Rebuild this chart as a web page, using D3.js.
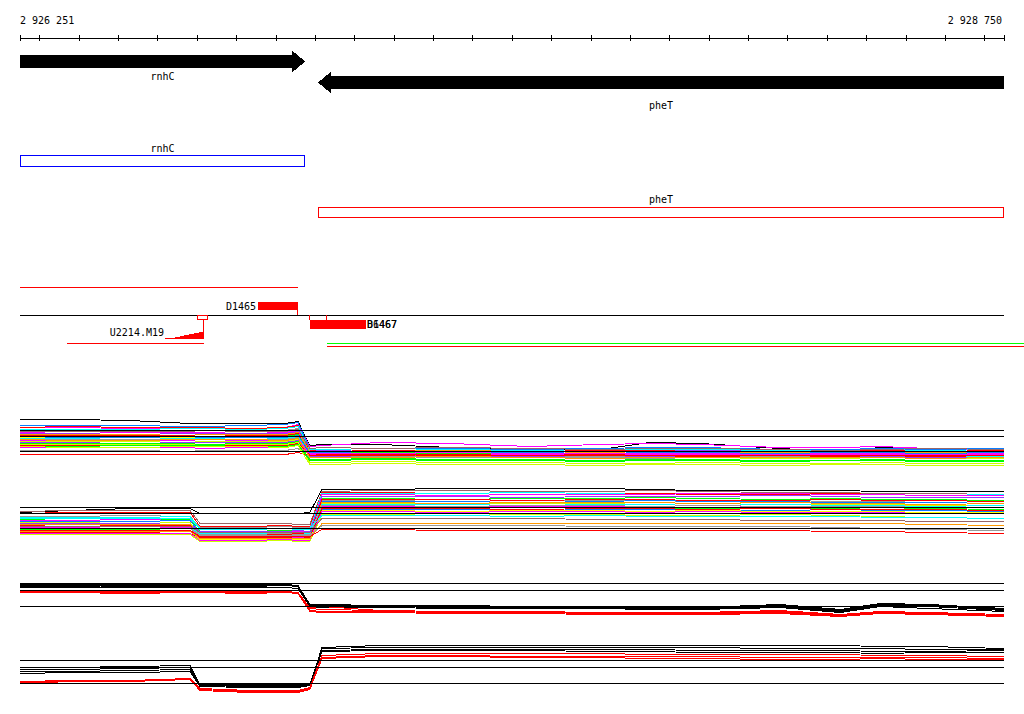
<!DOCTYPE html>
<html>
<head>
<meta charset="utf-8">
<script src="https://cdnjs.cloudflare.com/ajax/libs/d3/7.8.5/d3.min.js"></script>
<style>
	html, body { margin: 0; padding: 0; background: #fff; }
	svg { display: block; font-family: "DejaVu Sans Mono", monospace; font-size: 10px; }
</style>
</head>
<body>
<div id="wrapper"></div>
<script>
const regionStart = 2926251;
const regionEnd = 2928750;

// genes
const geneNames = ["rnhC", "pheT"];
const geneStarts = [2926251, 2927008];
const geneEnds = [2926975, 2928750];
const geneStrands = [1, -1];

// features under the genes
const upstreamSpan = [2926251, 2926957];
const siteName = "D1465";
const siteSpan = [2926855, 2926957];
const tssName = "U2214.M19";
const tssSpan = [2926619, 2926718];
const tssBox = [2926700, 2926725];
const tssCounts = [1, 1, 2, 3, 4, 5, 6, 7];
const tssLine = [2926370, 2926718];
const termNames = ["D1467", "B6467"];
const termSpan = [2926988, 2927131];
const termTicks = [2926988, 2927031];
const downstreamSpan = [2927031, 2928810];

// probe positions of the expression profiles
const probePos = [2926251, 2926380, 2926530, 2926683, 2926708, 2926835, 2926925, 2926957, 2926987, 2927018, 2927165,
	2927345, 2927545, 2927725, 2927850, 2927980, 2928180, 2928335, 2928435, 2928560, 2928750];

const panel1Refs = [21, 15, 0];
const panel2Refs = [21, 15, 0];
const panel3Refs = [23, 16, 0];
const panel4Refs = [23, 16, 0];

const panel1Colors = ["blk", "mag", "blu", "red", "cyn", "gry", "brn", "mag", "pur", "org", "red", "lim", "yel", "blu",
	"cyn", "gry", "mag", "gy", "pur", "lim", "red", "mag", "gy", "gry", "red", "lim", "gy", "org"];
const panel1Values = [
	[32,32,31,28,28,28,28,30,6,7,7,4,2,2,9,8,3,0,4,3,0],
	[24,24,23,23,23,22,24,27,5,6,9,8,5,7,8,7,4,4,5,3,0],
	[26,26,26,25,25,26,27,29,3,4,3,3,2,3,4,4,2,2,3,2,3],
	[24,25,24,24,24,23,24,26,1,2,1,1,0,1,1,2,1,0,1,0,1],
	[22,22,22,23,23,22,23,25,2,2,3,2,1,2,2,2,1,1,2,1,2],
	[21,21,20,21,21,21,21,23,-1,0,-1,-1,-2,-1,0,-1,-2,-2,-1,-1,-1],
	[20,20,20,20,19,20,20,22,3,4,3,4,3,2,3,3,2,1,2,3,2],
	[19,18,19,19,19,18,19,21,-2,-1,-2,-1,-2,-3,-2,-2,-3,-2,-2,-3,-4],
	[18,18,17,18,18,18,18,20,0,1,0,0,-1,0,0,1,0,-1,0,-1,-1],
	[17,17,17,16,17,17,17,19,0,-1,0,1,0,-1,0,0,-1,0,0,-1,0],
	[16,16,16,16,15,16,16,18,-3,-3,-2,-3,-4,-3,-3,-3,-4,-4,-3,-4,-3],
	[15,15,14,15,15,15,15,17,-2,-2,-1,-2,-2,-3,-2,-2,-3,-3,-2,-2,-3],
	[14,14,14,14,13,14,13,15,-4,-4,-3,-4,-5,-4,-4,-5,-5,-4,-4,-5,-5],
	[13,14,14,13,14,14,14,16,-1,-1,0,-1,-1,0,-1,-1,-2,-1,-1,-2,-1],
	[13,13,12,13,13,12,13,15,-4,-3,-4,-4,-4,-5,-4,-4,-5,-5,-4,-5,-5],
	[12,12,12,11,12,12,12,14,-5,-5,-4,-5,-5,-5,-6,-5,-5,-6,-5,-6,-6],
	[11,11,11,11,10,11,11,13,-3,-3,-2,-3,-3,-4,-3,-3,-4,-3,-3,-4,-3],
	[10,10,10,9,10,10,10,12,-6,-6,-5,-6,-6,-7,-6,-6,-7,-7,-6,-7,-7],
	[9,9,8,9,9,9,9,11,-5,-5,-5,-4,-5,-6,-5,-5,-6,-5,-5,-6,-6],
	[8,8,8,8,7,8,8,10,-8,-8,-7,-8,-8,-9,-8,-8,-9,-9,-8,-9,-9],
	[6,6,6,5,6,6,6,8,-4,-4,-4,-3,-4,-4,-4,-5,-4,-4,-4,-5,-4],
	[4,4,4,4,3,4,4,6,-2,-2,-2,-1,-2,-2,-2,-2,-3,-2,-2,-3,-2],
	[7,7,7,7,6,7,7,9,-11,-11,-10,-11,-11,-12,-12,-11,-12,-12,-11,-12,-12],
	[1,1,1,0,1,1,1,3,-6,-6,-5,-6,-6,-6,-7,-6,-6,-6,-6,-7,-6],
	[-3,-3,-3,-3,-3,-3,-3,-1,-4,-3,-3,-4,-4,-3,-4,-4,-4,-5,-4,-4,-4],
	[5,5,6,6,6,5,5,7,-9,-9,-8,-9,-9,-10,-9,-9,-10,-9,-9,-10,-10],
	[5,4,4,5,5,5,4,6,-13,-13,-12,-13,-13,-14,-13,-13,-14,-13,-13,-14,-14],
	[12,11,11,12,12,12,11,13,-6,-6,-6,-5,-6,-7,-6,-6,-6,-6,-6,-7,-6],
];

const panel2Colors = ["blk", "brn", "red", "gry", "cyn", "lim", "mag", "blu", "gy", "pur", "org", "red", "cyn", "mag",
	"gry", "lim", "blu", "yel", "red", "mag", "gy", "org", "gry", "red", "brn", "cyn"];
const panel2Values = [
	[16,18,20,20,15,15,15,15,16,39,39,40,40,40,39,38,38,38,37,37,37],
	[17,18,18,18,5,5,5,4,4,37,38,38,37,37,38,37,36,36,35,35,34],
	[15,16,16,16,2,2,3,2,2,36,36,35,36,35,35,34,34,35,34,33,33],
	[12,12,13,12,1,1,2,1,1,28,28,29,28,28,28,27,28,27,27,26,27],
	[11,11,11,12,-1,-1,0,-1,-1,35,35,35,36,35,34,35,35,34,34,33,34],
	[9,10,9,9,-3,-3,-2,-3,-3,30,30,29,30,30,31,30,29,30,29,29,28],
	[8,8,9,8,-4,-4,-4,-3,-4,34,34,33,34,34,34,35,35,34,34,33,33],
	[7,7,7,8,-5,-5,-4,-5,-5,27,27,27,26,27,28,27,27,26,26,26,25],
	[6,6,5,6,-8,-8,-7,-8,-8,25,25,24,25,25,24,25,24,24,24,23,23],
	[5,5,5,4,-3,-3,-3,-2,-3,32,32,32,31,32,32,32,33,32,31,31,31],
	[4,4,4,4,-7,-7,-6,-7,-7,26,26,25,26,26,26,25,26,25,25,24,25],
	[3,2,3,3,-6,-6,-6,-5,-6,29,29,29,28,29,29,28,28,29,28,28,27],
	[2,2,2,1,-5,-5,-5,-4,-5,24,24,24,23,24,24,23,24,23,23,22,23],
	[1,1,0,1,-9,-9,-8,-9,-9,22,22,21,22,22,22,21,22,21,21,20,21],
	[0,0,0,0,-6,-6,-5,-6,-6,23,23,22,23,23,22,23,22,22,22,21,21],
	[-1,-1,-1,-2,-10,-10,-9,-10,-10,21,21,20,21,21,20,20,21,20,19,20,19],
	[-2,-2,-2,-2,-8,-8,-8,-7,-8,19,19,19,18,19,19,18,18,19,18,18,17],
	[-3,-3,-4,-3,-11,-11,-10,-11,-11,18,18,17,18,18,17,18,17,17,17,16,16],
	[-4,-4,-4,-5,-9,-9,-9,-8,-9,20,20,20,19,20,20,19,20,19,19,19,18],
	[-5,-5,-5,-5,-12,-12,-11,-12,-12,17,17,16,17,17,16,17,16,16,16,15,15],
	[-6,-6,-6,-6,-13,-13,-12,-13,-13,14,14,13,14,14,13,13,14,13,12,11,10],
	[-3,-3,-3,-3,-10,-10,-10,-10,-10,5,5,5,5,5,5,5,5,5,5,4,3],
	[0,0,0,0,-7,-7,-7,-7,-7,3,3,3,3,2,2,2,2,1,0,-1,-2],
	[-2,-2,-2,-2,-8,-8,-8,-8,-8,-1,-1,-2,-2,-2,-2,-2,-2,-3,-3,-4,-5],
	[2,2,2,2,-4,-4,-4,-4,-4,10,10,10,10,9,9,9,8,8,8,7,7],
	[10,10,10,10,0,0,0,0,0,13,13,13,12,13,12,12,12,12,11,11,10],
];

const panel3Colors = ["blk", "blk", "blk", "blk", "red", "red", "red", "red"];
const panel3Values = [
	[22,22,22,22,22,22,22,21,2,1,1,0,0,-1,-1,-2,1,-4,2,1,-3],
	[21,21,20,20,20,20,21,20,1,0,0,-1,-1,-1,-2,-2,0,-5,1,0,-4],
	[19,19,19,19,19,19,19,18,0,-1,-1,-2,-2,-2,-3,-3,-1,-6,0,-2,-5],
	[20,20,21,21,21,21,21,20,2,2,1,1,0,0,0,-1,2,-3,3,2,-2],
	[15,15,15,15,15,15,15,14,-2,-3,-4,-5,-5,-6,-6,-6,-4,-8,-5,-6,-8],
	[14,14,14,14,14,14,14,13,-4,-5,-5,-6,-6,-7,-7,-8,-6,-9,-6,-7,-9],
	[14,14,13,14,14,13,14,13,-5,-6,-6,-7,-7,-8,-8,-8,-7,-10,-7,-8,-10],
	[15,15,15,15,15,15,15,14,-1,0,-4,-5,-6,-6,-7,-7,-5,-9,-6,-7,-10],
];

const panel4Colors = ["blk", "blk", "blk", "blk", "red", "red", "red"];
const panel4Values = [
	[16,16,17,18,-1,-1,-1,-1,-1,36,38,38,38,38,38,38,38,38,37,37,35],
	[14,14,15,16,-2,-2,-2,-2,-1,35,36,36,36,36,36,36,35,35,35,34,34],
	[12,12,13,14,-2,-3,-3,-3,-2,33,34,34,34,34,34,33,33,33,32,32,33],
	[10,11,11,12,-3,-4,-4,-4,-2,32,33,33,33,32,32,31,31,31,30,31,31],
	[2,3,3,5,-5,-7,-7,-7,-4,28,30,30,30,30,29,29,29,29,28,28,27],
	[0,2,2,4,-6,-8,-8,-8,-5,26,28,28,27,27,27,27,26,26,26,26,25],
	[1,2,3,4,-7,-9,-9,-9,-6,25,27,27,26,26,25,25,24,24,25,24,24],
];

const palette = {
	blk: "#000000", red: "#ff0000", mag: "#ff00ff", cyn: "#00ffff", lim: "#00ff00", gy: "#ccff00",
	blu: "#0a7dff", gry: "#999999", brn: "#996666", pur: "#9933ff", org: "#ff9900", yel: "#ffff00",
};

const width = 1024;
const height = 714;

const x = d3.scaleLinear().domain([regionStart, regionEnd]).range([20, 1004]);

const svg = d3
	.select("#wrapper")
	.append("svg")
	.attr("width", width)
	.attr("height", height)
	.attr("shape-rendering", "crispEdges");

// ruler
const locale = d3.formatLocale({ decimal: ".", thousands: " ", grouping: [3], currency: ["", ""] });
const fmt = locale.format(",");
const tickVals = [regionStart, ...d3.range(2926300, regionEnd, 100), regionEnd];
svg
	.append("g")
	.attr("transform", "translate(0,38)")
	.call(d3.axisBottom(x).tickValues(tickVals).tickSize(3).tickSizeOuter(0).tickFormat(""))
	.call((g) => g.selectAll(".tick line").attr("y1", -3).attr("stroke", "#000"))
	.call((g) => g.select(".domain").attr("stroke", "#000"));
svg.append("text").attr("x", 20).attr("y", 24).text(fmt(regionStart));
svg.append("text").attr("x", 1002).attr("y", 24).attr("text-anchor", "end").text(fmt(regionEnd));

// gene arrows
const arrowRow = { 1: { cy: 61.5, labelY: 80 }, "-1": { cy: 82.5, labelY: 109 } };
const boxRow = { 1: { y: 155.5, h: 11, labelY: 152, color: "#0000ff" }, "-1": { y: 207.5, h: 10, labelY: 203, color: "#ff0000" } };

geneNames.forEach((name, i) => {
	const x0 = x(geneStarts[i]);
	const x1 = x(geneEnds[i]);
	const strand = geneStrands[i];
	const { cy, labelY } = arrowRow[strand];
	const body = 6.5, head = 11, headLen = 13;
	let pts;
	if (strand > 0) {
		pts = [[x0, cy - body], [x1 - headLen, cy - body], [x1 - headLen, cy - head], [x1, cy],
			[x1 - headLen, cy + head], [x1 - headLen, cy + body], [x0, cy + body]];
	} else {
		pts = [[x1, cy - body], [x0 + headLen, cy - body], [x0 + headLen, cy - head], [x0, cy],
			[x0 + headLen, cy + head], [x0 + headLen, cy + body], [x1, cy + body]];
	}
	svg.append("path").attr("d", d3.line()(pts) + "Z").attr("fill", "#000");
	svg.append("text").attr("x", (x0 + x1) / 2).attr("y", labelY).attr("text-anchor", "middle").text(name);

	const b = boxRow[strand];
	svg
		.append("rect")
		.attr("x", Math.round(x0) + 0.5)
		.attr("y", b.y)
		.attr("width", Math.round(x1 - x0) - 1)
		.attr("height", b.h)
		.attr("fill", "none")
		.attr("stroke", b.color);
	svg.append("text").attr("x", (x0 + x1) / 2).attr("y", b.labelY).attr("text-anchor", "middle").text(name);
});

// feature track
const hline = (span, y, color, xmax) =>
	svg
		.append("line")
		.attr("x1", Math.round(x(span[0])))
		.attr("x2", Math.min(xmax || width, Math.round(x(span[1]))))
		.attr("y1", y)
		.attr("y2", y)
		.attr("stroke", color);
const vline = (pos, y1, y2, color) =>
	svg
		.append("line")
		.attr("x1", Math.round(x(pos)) - 0.5)
		.attr("x2", Math.round(x(pos)) - 0.5)
		.attr("y1", y1)
		.attr("y2", y2)
		.attr("stroke", color);

hline(upstreamSpan, 287.5, "#ff0000");
hline([regionStart, regionEnd], 315.5, "#000000");

svg
	.append("rect")
	.attr("x", Math.round(x(siteSpan[0])))
	.attr("y", 302)
	.attr("width", Math.round(x(siteSpan[1]) - x(siteSpan[0])))
	.attr("height", 8)
	.attr("fill", "#ff0000");
vline(siteSpan[1], 310, 315, "#ff0000");
svg.append("text").attr("x", Math.round(x(siteSpan[0])) - 2).attr("y", 309.5).attr("text-anchor", "end").text(siteName);

// TSS wedge
const tssX = d3.scaleLinear().domain([0, tssCounts.length]).range([x(tssSpan[0]), x(tssSpan[1])]);
const tssY = d3.scaleLinear().domain([0, 8]).range([338.5, 330.5]);
svg
	.append("path")
	.attr("d", d3.area().x((d, i) => tssX(i)).y0(tssY(0)).y1((d) => tssY(d)).curve(d3.curveStepAfter)([...tssCounts, tssCounts[tssCounts.length - 1]]))
	.attr("fill", "#ff0000");
svg
	.append("rect")
	.attr("x", Math.round(x(tssBox[0])) + 0.5)
	.attr("y", 315.5)
	.attr("width", Math.round(x(tssBox[1]) - x(tssBox[0])))
	.attr("height", 4)
	.attr("fill", "none")
	.attr("stroke", "#ff0000");
vline(tssSpan[1], 319, 338, "#ff0000");
svg.append("text").attr("x", Math.round(x(tssSpan[0])) - 1).attr("y", 336).attr("text-anchor", "end").text(tssName);
hline(tssLine, 343.5, "#ff0000");

// terminator features
svg
	.append("rect")
	.attr("x", Math.round(x(termSpan[0])))
	.attr("y", 320)
	.attr("width", Math.round(x(termSpan[1]) - x(termSpan[0])))
	.attr("height", 9)
	.attr("fill", "#ff0000");
termTicks.forEach((p) => vline(p, 315, 320, "#ff0000"));
termNames.forEach((n) =>
	svg.append("text").attr("x", Math.round(x(termSpan[1]))).attr("y", 327.5).text(n)
);
hline(downstreamSpan, 343.5, "#00ff00");
hline(downstreamSpan, 346.5, "#ff0000");

// expression profiles
const panels = [
	{ base: 451, refs: panel1Refs, colors: panel1Colors, values: panel1Values },
	{ base: 528, refs: panel2Refs, colors: panel2Colors, values: panel2Values },
	{ base: 606, refs: panel3Refs, colors: panel3Colors, values: panel3Values },
	{ base: 683, refs: panel4Refs, colors: panel4Colors, values: panel4Values },
];

panels.forEach((p) => {
	const y = d3.scaleLinear().domain([0, 10]).range([p.base + 0.5, p.base + 0.5 - 10]);
	const line = d3
		.line()
		.x((d, i) => x(probePos[i]))
		.y((d) => y(d));
	const g = svg.append("g");
	g.selectAll(".profile")
		.data(p.values)
		.join("path")
		.attr("class", "profile")
		.attr("d", line)
		.attr("fill", "none")
		.attr("stroke", (d, i) => palette[p.colors[i]])
		.attr("stroke-width", 1);
	g.selectAll(".ref")
		.data(p.refs)
		.join("line")
		.attr("class", "ref")
		.attr("x1", x(regionStart))
		.attr("x2", x(regionEnd))
		.attr("y1", (d) => y(d))
		.attr("y2", (d) => y(d))
		.attr("stroke", "#000");
});
</script>
</body>
</html>
